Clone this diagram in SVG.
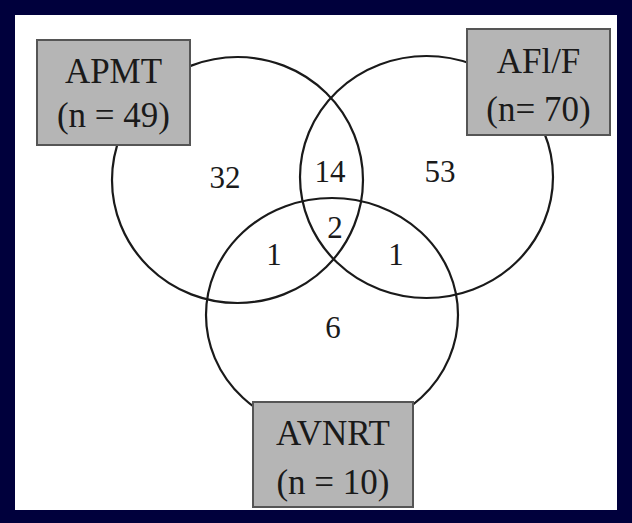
<svg xmlns="http://www.w3.org/2000/svg" width="632" height="523" viewBox="0 0 632 523">
<style>
.bg{fill:#00003c}
.panel{fill:#ffffff}
.set{fill:none;stroke:#1a1a1a;stroke-width:2.2}
.box{fill:#b5b5b5;stroke:#555555;stroke-width:2}
.lbl{font-family:"Liberation Serif","Times New Roman",serif;font-size:35px;fill:#1a1a1a;text-anchor:middle}
.num{font-family:"Liberation Serif","Times New Roman",serif;font-size:31px;fill:#1a1a1a;text-anchor:middle}
</style>
<rect class="bg" x="0" y="0" width="632" height="523"/>
<rect class="panel" x="15" y="15" width="602" height="495"/>
<g id="connectors">
<ellipse id="circle-apmt" class="set" cx="237.5" cy="180" rx="125.5" ry="123"/>
<ellipse id="circle-aflf" class="set" cx="426.5" cy="177" rx="126.5" ry="121"/>
<ellipse id="circle-avnrt" class="set" cx="332" cy="315" rx="126" ry="117"/>
</g>
<g id="node-apmt">
<rect class="box" x="37" y="40" width="153" height="105"/>
<text class="lbl" x="113.5" y="83">APMT</text>
<text class="lbl" x="113.5" y="127">(n = 49)</text>
</g>
<g id="node-aflf">
<rect class="box" x="467" y="29" width="143" height="106"/>
<text class="lbl" x="538.5" y="73">AFl/F</text>
<text class="lbl" x="538.5" y="121">(n= 70)</text>
</g>
<g id="node-avnrt">
<rect class="box" x="253" y="402" width="160" height="105"/>
<text class="lbl" x="333" y="445">AVNRT</text>
<text class="lbl" x="333" y="494">(n = 10)</text>
</g>
<g id="counts">
<text class="num" x="225" y="188">32</text>
<text class="num" x="330" y="182">14</text>
<text class="num" x="440" y="182">53</text>
<text class="num" x="274" y="265">1</text>
<text class="num" x="335" y="238">2</text>
<text class="num" x="396" y="265">1</text>
<text class="num" x="333" y="338">6</text>
</g>
</svg>
